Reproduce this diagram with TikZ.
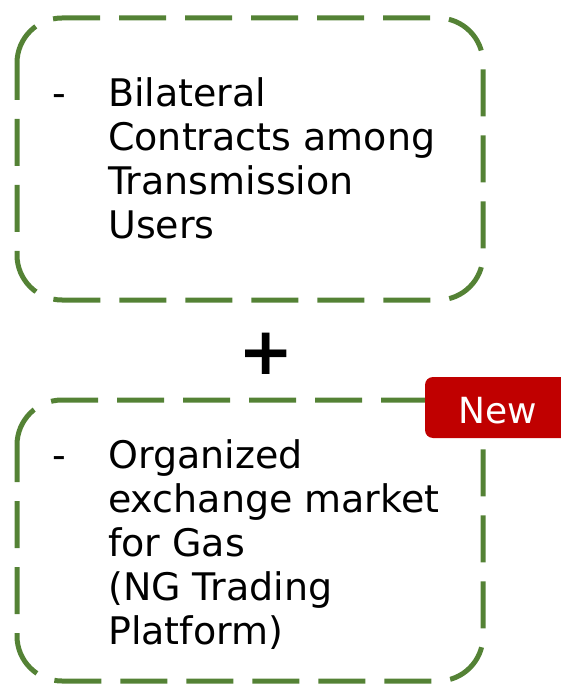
\documentclass[tikz,border=0pt]{standalone}
\usepackage{fontspec}
\setmainfont{DejaVu Sans}
\definecolor{boxgreen}{RGB}{84,130,53}
\definecolor{tagred}{RGB}{192,0,0}
\begin{document}
\begin{tikzpicture}[x=1pt,y=-1pt,
  dashbox/.style={draw=boxgreen, line width=5pt, rounded corners=45pt, dash pattern=on 47pt off 19pt, dash phase=10pt},
  bodytext/.style={anchor=base west, align=left, inner sep=0pt, font=\fontsize{38}{44}\selectfont},
  dashmark/.style={anchor=base west, inner sep=0pt, font=\fontsize{38}{44}\selectfont}]
\useasboundingbox (0,0) rectangle (560,684);
\draw[dashbox] (17,18) rectangle (483,300);
\draw[dashbox] (17,400) rectangle (483,681);
\node[dashmark] (d1) at (52,107) {-};
\node[bodytext] (t1) at (108,239) {Bilateral\\Contracts among\\Transmission\\Users};
\node[dashmark] (d2) at (52,468) {-};
\node[bodytext] (t2) at (108,644) {Organized\\exchange market\\for Gas\\(NG Trading\\Platform)};
\node[font=\fontsize{66}{66}\selectfont\bfseries, inner sep=0pt] (plus) at (266,354) {+};
\fill[tagred, rounded corners=8pt] (425,377) rectangle (575,438);
\node[anchor=base, text=white, inner sep=0pt, font=\fontsize{36}{44}\selectfont] (new) at (498,423) {New};
\end{tikzpicture}
\end{document}
